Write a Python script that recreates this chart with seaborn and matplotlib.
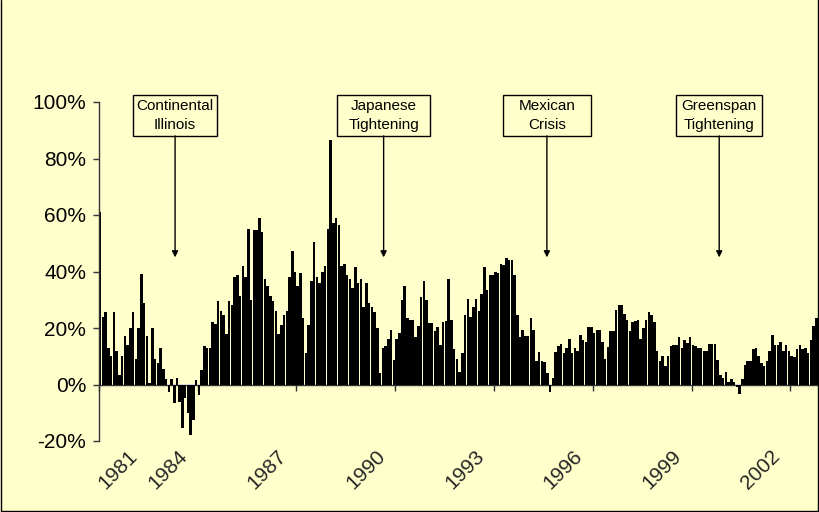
import numpy as np
import pandas as pd
import matplotlib
matplotlib.use("Agg")
import matplotlib.pyplot as plt
import matplotlib.transforms as mtransforms
from matplotlib.patches import Rectangle
from matplotlib.ticker import PercentFormatter
import seaborn as sns

# Monthly growth values (%), Jan 1981 - Oct 2002
y1981 = [61, 24, 25.5, 13, 10, 25.5, 12, 3.5, 10, 17, 14, 20]
y1982 = [25.5, 9, 20, 39, 29, 17, 0.6, 20, 9, 7.6, 13, 5.5]
y1983 = [2, -2.7, 1.8, -6.7, 2.2, -6.2, -15.3, -4.7, -10, -18, -12.7, 1.5]
y1984 = [-3.6, 5, 13.5, 12.8, 12.8, 22, 21.5, 29.4, 26, 24.7, 18, 29.4]
y1985 = [28, 38, 38.8, 31.4, 42, 38, 55, 30, 54.7, 54.7, 59, 54]
y1986 = [37.4, 35, 31.4, 29.4, 26, 18, 21, 24.7, 26, 38, 47.4, 40]
y1987 = [34.7, 39.4, 23.5, 11, 21, 36.8, 50.6, 38, 36, 40, 42, 55]
y1988 = [86.5, 57, 59, 56.5, 41.8, 42.7, 38.8, 37.3, 34, 41.6, 35.9, 37.3]
y1989 = [27.4, 36, 28.8, 27.6, 25.5, 20, 4, 13, 13.5, 16, 19.4, 8.8]
y1990 = [16, 18.2, 30, 35, 23.5, 23, 23, 16.8, 20.6, 31, 36.7, 30]
y1991 = [21.8, 21.8, 18.8, 20.4, 14, 22, 22.4, 37.3, 22.7, 12.4, 9, 4.4]
y1992 = [11, 24.7, 30.2, 24, 27.4, 30.2, 26, 32, 41.5, 33.3, 38.8, 38.8]
y1993 = [40, 39.4, 42.7, 42.4, 44.7, 44, 44, 38.8, 24.7, 16.8, 19.4, 17.3]
y1994 = [17.3, 23.5, 19.4, 8.2, 11.4, 8.2, 7.9, 3.9, -2.7, 2.4, 11.4, 13.5]
y1995 = [14.5, 11.2, 13, 16, 11, 13, 11.8, 17.6, 15.6, 15, 20.2, 20.2]
y1996 = [18.2, 19.4, 19.4, 15, 9, 13.3, 18.8, 18.8, 26.2, 28.2, 28.2, 25]
y1997 = [22.7, 18.8, 22, 22.4, 22.7, 16, 20, 22.7, 25.5, 24.7, 22, 12]
y1998 = [8.2, 10.2, 6.7, 10.2, 13.5, 14, 14, 16.8, 13, 15.6, 14.7, 16.8]
y1999 = [14, 13.5, 13, 13, 11.8, 11.8, 14.5, 14.5, 14.5, 8.8, 3.5, 2.4]
y2000 = [4.4, 0.8, 1.8, 0.8, -0.8, -3.5, 2.1, 7, 8.2, 8.2, 12.4, 13]
y2001 = [10.2, 7.6, 6.7, 8.2, 11.8, 17.6, 14, 14, 15, 11.8, 14, 12]
y2002 = [10.2, 9.8, 12.4, 14, 12.6, 13, 11, 15.6, 20.8, 23.5]

tick_years = ["1981", "1984", "1987", "1990", "1993", "1996", "1999", "2002"]
events = ["Continental\nIllinois", "Japanese\nTightening", "Mexican\nCrisis", "Greenspan\nTightening"]
event_month = [27.3, 103.3, 162.8, 225.6]
event_box_w = [30.6, 33.9, 32.0, 31.3]

values = (y1981 + y1982 + y1983 + y1984 + y1985 + y1986 + y1987 + y1988 + y1989
          + y1990 + y1991 + y1992 + y1993 + y1994 + y1995 + y1996 + y1997 + y1998
          + y1999 + y2000 + y2001 + y2002)
N = len(values)
df = pd.DataFrame({"month": np.arange(N), "growth": np.array(values) / 100.0})

sns.set_theme(style="white")
plt.rcParams["font.family"] = ["Liberation Sans", "DejaVu Sans"]
plt.rcParams["axes.unicode_minus"] = False
bg = "#FFFFCC"
axc = "#333333"

fig = plt.figure(figsize=(8.2, 5.12), dpi=100, facecolor=bg)
px = 2.744
ax = fig.add_axes([98.8 / 820, 71 / 512, (N * px) / 820, 339 / 512])
ax.set_facecolor(bg)

sns.barplot(data=df, x="month", y="growth", color="black", width=0.92,
            linewidth=0, saturation=1, ax=ax)
ax.set_xlim(-0.5, N - 0.5)
ax.set_ylim(-0.2, 1.0)
ax.set_xlabel("")
ax.set_ylabel("")

for s in ["top", "right", "bottom"]:
    ax.spines[s].set_visible(False)
ax.spines["left"].set_color(axc)
ax.spines["left"].set_linewidth(1.0)

ax.set_yticks(np.arange(-0.2, 1.01, 0.2))
ax.yaxis.set_major_formatter(PercentFormatter(1.0, decimals=0))
ax.tick_params(axis="y", direction="out", length=4, width=1, color=axc,
               labelsize=15, labelcolor="black", pad=5, left=True)

tick_pos = [36 * k - 0.5 for k in range(len(tick_years))]
ax.set_xticks(tick_pos)
ax.set_xticklabels(tick_years, rotation=45, ha="right", va="center",
                   rotation_mode="anchor", fontsize=15)
ax.tick_params(axis="x", length=0, pad=9, bottom=True)
for k, lab in enumerate(ax.get_xticklabels()):
    dxp = 36 if k == 0 else -13
    lab.set_transform(lab.get_transform() +
                      mtransforms.ScaledTranslation(dxp / 100, 0, fig.dpi_scale_trans))

# x axis line at zero with downward ticks
sec = ax.secondary_xaxis(0.2 / 1.2)
sec.set_xticks(tick_pos)
sec.set_xticklabels([])
sec.tick_params(axis="x", direction="out", length=4, width=1, color=axc)
sec.spines["bottom"].set_color(axc)
sec.spines["bottom"].set_linewidth(1.0)

# event annotations
box_bottom, box_top, tip = 0.88, 1.025, 0.45
for label, m, w in zip(events, event_month, event_box_w):
    ax.add_patch(Rectangle((m - w / 2, box_bottom), w, box_top - box_bottom,
                           facecolor=bg, edgecolor="black", linewidth=1.0,
                           clip_on=False, zorder=5))
    ax.text(m, (box_bottom + box_top) / 2, label, ha="center", va="center",
            fontsize=11, linespacing=1.4, color="black", zorder=6, clip_on=False)
    ax.annotate("", xy=(m, tip), xytext=(m, box_bottom),
                arrowprops=dict(arrowstyle="-|>", color="black", lw=1.0,
                                mutation_scale=9, shrinkA=0, shrinkB=0),
                zorder=6, annotation_clip=False)

# chart area border
for (xa, ya, xb, yb) in [(1.5, 0, 1.5, 510.5), (1.5, 510.5, 818.5, 510.5), (818.5, 0, 818.5, 510.5)]:
    fig.add_artist(plt.Line2D([xa / 820, xb / 820], [1 - ya / 512, 1 - yb / 512],
                              color="black", linewidth=1.0, transform=fig.transFigure))

fig.savefig("out.png", dpi=100, facecolor=bg)
